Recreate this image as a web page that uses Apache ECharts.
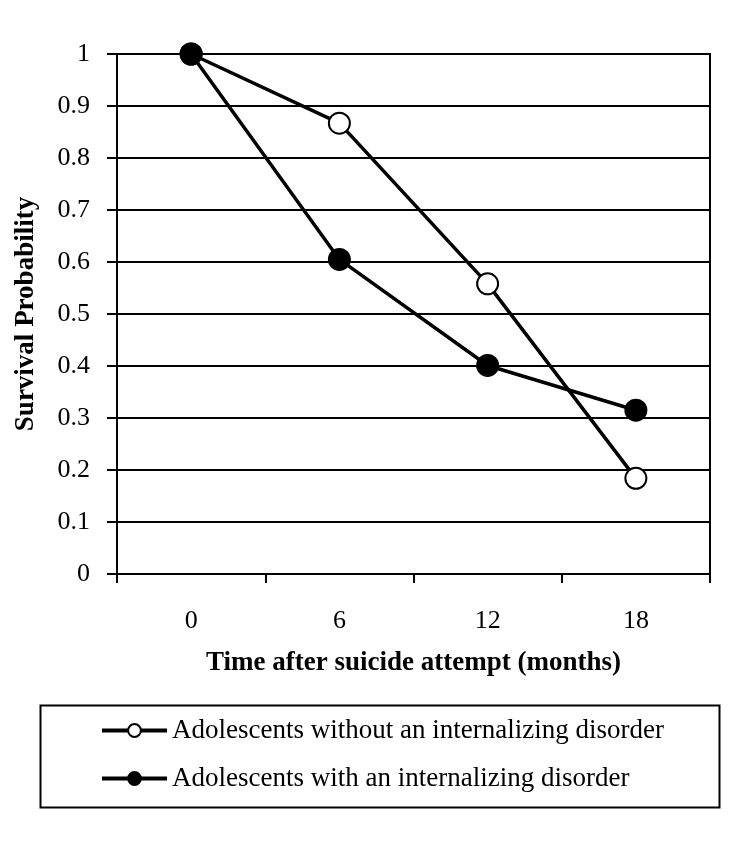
<!DOCTYPE html>
<html><head><meta charset="utf-8">
<script src="https://cdn.jsdelivr.net/npm/echarts@6/dist/echarts.min.js"></script>
<style>html,body{margin:0;padding:0;background:#fff}#c{width:750px;height:846px}</style>
</head><body><div id="c"></div>
<script>
const categories = ['0', '6', '12', '18'];
const withoutDisorder = [1.0, 0.867, 0.558, 0.184];
const withDisorder = [1.0, 0.605, 0.401, 0.315];
const seriesNames = ['Adolescents without an internalizing disorder', 'Adolescents with an internalizing disorder'];

const chart = echarts.init(document.getElementById('c'), null, {renderer: 'canvas'});
const font = 'Liberation Serif';
chart.setOption({
  backgroundColor: '#fff',
  animation: false,
  grid: {left: 117, right: 40, top: 54, bottom: 272, show: true, borderColor: '#000', borderWidth: 2, backgroundColor: 'transparent'},
  graphic: [{type: 'rect', left: 38, top: 703, shape: {width: 679, height: 102}, style: {fill: 'none', stroke: '#000', lineWidth: 2}}],
  legend: {
    orient: 'vertical', left: 95, top: 712, itemGap: 21, itemWidth: 65, itemHeight: 16,
    textStyle: {fontFamily: font, fontSize: 27, lineHeight: 27, color: '#000'},
    lineStyle: {width: 4, color: '#000'},
    data: seriesNames
  },
  xAxis: {
    type: 'category', data: categories, boundaryGap: true,
    name: 'Time after suicide attempt (months)', nameLocation: 'middle', nameGap: 76,
    nameTextStyle: {fontFamily: font, fontSize: 27, fontWeight: 'bold', color: '#000'},
    axisLine: {lineStyle: {color: '#000', width: 2}},
    axisTick: {show: true, length: 9, lineStyle: {color: '#000', width: 2}},
    axisLabel: {fontFamily: font, fontSize: 26, color: '#000', margin: 34},
    splitLine: {show: false}
  },
  yAxis: {
    type: 'value', min: 0, max: 1, interval: 0.1,
    name: 'Survival Probability', nameLocation: 'middle', nameGap: 77,
    nameTextStyle: {fontFamily: font, fontSize: 27, fontWeight: 'bold', color: '#000'},
    axisLine: {show: true, lineStyle: {color: '#000', width: 2}},
    axisTick: {show: true, length: 10, lineStyle: {color: '#000', width: 2}},
    axisLabel: {fontFamily: font, fontSize: 26, color: '#000', margin: 27,
      formatter: v => (Math.round(v * 10) / 10).toString()},
    splitLine: {show: true, lineStyle: {color: '#000', width: 2}}
  },
  series: [
    {name: seriesNames[0], type: 'line', data: withoutDisorder, symbol: 'circle', symbolSize: 21,
     lineStyle: {color: '#000', width: 3.5}, itemStyle: {color: '#fff', borderColor: '#000', borderWidth: 2}, z: 3},
    {name: seriesNames[1], type: 'line', data: withDisorder, symbol: 'circle', symbolSize: 21,
     lineStyle: {color: '#000', width: 3.5}, itemStyle: {color: '#000', borderColor: '#000', borderWidth: 2}, z: 4}
  ]
});
</script></body></html>
